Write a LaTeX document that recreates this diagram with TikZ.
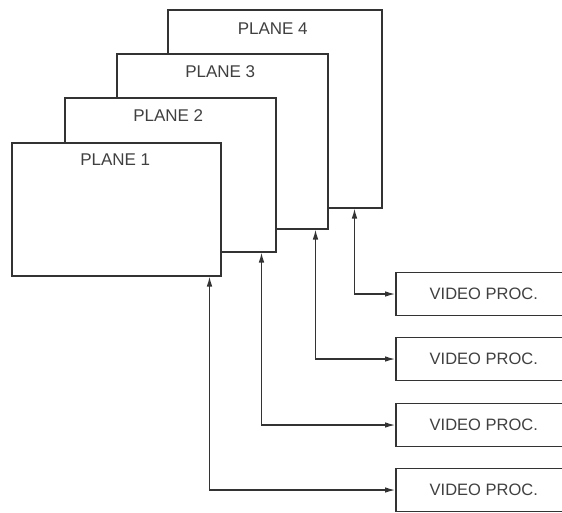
\documentclass[tikz,border=0pt]{standalone}
\usepackage{fontspec}
\setmainfont{Liberation Sans}
\usetikzlibrary{arrows.meta,positioning,calc}

\tikzset{
  plane/.style={draw=black!80,line width=1.5pt,fill=white,anchor=north west,inner sep=0pt},
  planelbl/.style={font=\fontsize{17}{19}\selectfont,text=black!75},
  vproc/.style={draw=black!80,line width=1.5pt,fill=white,anchor=west,minimum width=176pt,
    minimum height=43pt,font=\fontsize{16.5}{19}\selectfont,text=black!75},
  link/.style={black!80,line width=1.1pt,{Latex[length=10pt,width=5.5pt]}-{Latex[length=10pt,width=5.5pt]}},
}

\begin{document}
\begin{tikzpicture}[x=1pt,y=-1pt]
  \useasboundingbox (0,0) rectangle (562,512);
  \clip (0,0) rectangle (562,512);
  % planes, back to front
  \node[plane,minimum width=214pt,minimum height=198pt] (p4) at (167,9) {};
  \node[planelbl] (l4) at ($(p4.north)+(-2,20)$) {PLANE 4};
  \node[plane,minimum width=211pt,minimum height=175pt] (p3) at (116,53) {};
  \node[planelbl] (l3) at ($(p3.north)+(-2,19)$) {PLANE 3};
  \node[plane,minimum width=211pt,minimum height=154pt] (p2) at (64,97) {};
  \node[planelbl] (l2) at ($(p2.north)+(-2,19)$) {PLANE 2};
  \node[plane,minimum width=209pt,minimum height=133pt] (p1) at (11,142) {};
  \node[planelbl] (l1) at ($(p1.north)+(-1,18)$) {PLANE 1};
  % video processors (cut off at the right edge)
  \node[vproc] (v4) at (395,294) {VIDEO PROC.};
  \node[vproc] (v3) at (395,359) {VIDEO PROC.};
  \node[vproc] (v2) at (395,425) {VIDEO PROC.};
  \node[vproc] (v1) at (395,490) {VIDEO PROC.};
  % taps on the lower edges
  \coordinate (t1) at ($(p1.south east)+(-12,0)$);
  \coordinate (t2) at ($(p2.south east)+(-15,0)$);
  \coordinate (t3) at ($(p3.south east)+(-13,0)$);
  \coordinate (t4) at ($(p4.south east)+(-28,0)$);
  \draw[link] (t1) |- (v1.west);
  \draw[link] (t2) |- (v2.west);
  \draw[link] (t3) |- (v3.west);
  \draw[link] (t4) |- (v4.west);
\end{tikzpicture}
\end{document}
